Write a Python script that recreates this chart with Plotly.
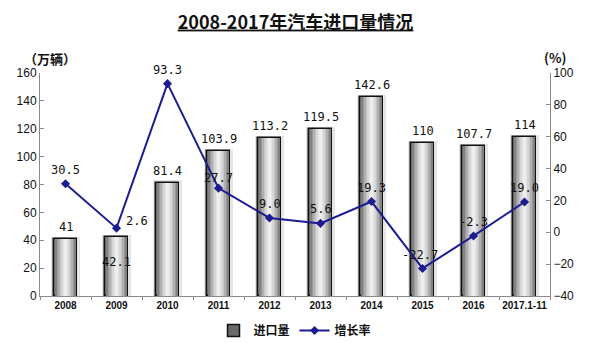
import plotly.graph_objects as go

# Data
categories = ["2008", "2009", "2010", "2011", "2012", "2013", "2014", "2015", "2016", "2017.1-11"]
import_volume = [41, 42.1, 81.4, 103.9, 113.2, 119.5, 142.6, 110, 107.7, 114]   # 万辆
growth_rate = [30.5, 2.6, 93.3, 27.7, 9.0, 5.6, 19.3, -22.7, -2.3, 19.0]       # %
volume_labels = ["41", "42.1", "81.4", "103.9", "113.2", "119.5", "142.6", "110", "107.7", "114"]
rate_labels = ["30.5", "2.6", "93.3", "27.7", "9.0", "5.6", "19.3", "-22.7", "-2.3", "19.0"]

LINE_COLOR = "#1c1c92"
FONT = "Liberation Sans, Arial, sans-serif"
CJK = "Noto Sans CJK SC, sans-serif"
MONO = "DejaVu Sans Mono, monospace"

fig = go.Figure()

# soft shadow behind the bars
fig.add_trace(go.Bar(
    x=categories, y=[v + 1.5 for v in import_volume], width=0.56,
    marker=dict(color="rgba(0,0,0,0.10)", line=dict(width=0)),
    showlegend=False, hoverinfo="skip", yaxis="y"))

# cylinder-like gray shading built from nested bars
widths = [0.47, 0.41, 0.35, 0.29, 0.23, 0.17, 0.11, 0.05]
shades = ["#6a6a6a", "#828282", "#9a9a9a", "#b0b0b0", "#c4c4c4", "#d6d6d6", "#e4e4e4", "#eeeeee"]
for i, (w, c) in enumerate(zip(widths, shades)):
    fig.add_trace(go.Bar(
        x=categories, y=import_volume, width=w, name="进口量",
        marker=dict(color=c, line=dict(color="#111111", width=1.5) if i == 0 else dict(width=0)),
        showlegend=(i == 0), hoverinfo="skip" if i else None, yaxis="y"))

# growth rate line
fig.add_trace(go.Scatter(
    x=categories, y=growth_rate, name="增长率", mode="lines+markers", yaxis="y2",
    line=dict(color=LINE_COLOR, width=2),
    marker=dict(symbol="diamond", size=7, color=LINE_COLOR)))

label_font = dict(family=MONO, size=12, color="#111")

# value labels for bars (x given as category index)
bar_shift = {1: (0, -25)}
for i, (v, t) in enumerate(zip(import_volume, volume_labels)):
    dx, dy = bar_shift.get(i, (0, 12))
    fig.add_annotation(x=i, y=v, yref="y", text=t, showarrow=False,
                       xshift=dx, yshift=dy, font=label_font)

# value labels for the growth line
rate_shift = {1: (20, 7), 3: (0, 10), 7: (-3, 13)}
for i, (v, t) in enumerate(zip(growth_rate, rate_labels)):
    dx, dy = rate_shift.get(i, (0, 14))
    fig.add_annotation(x=i, y=v, yref="y2", text=t, showarrow=False,
                       xshift=dx, yshift=dy, font=label_font)

# axis unit labels
unit_font = dict(family=CJK, size=13, color="#111", weight="bold")
fig.add_annotation(xref="paper", yref="paper", x=-0.035, y=1.0, yshift=15,
                   xanchor="left", yanchor="middle",
                   text="（万辆）", showarrow=False, font=unit_font)
fig.add_annotation(xref="paper", yref="paper", x=0.984, y=1.0, yshift=16,
                   xanchor="left", yanchor="middle",
                   text="(%)", showarrow=False, font=unit_font)

axis_common = dict(showgrid=False, zeroline=False, showline=True, linecolor="#8a8a8a",
                   linewidth=1, ticks="inside", ticklen=4, tickcolor="#8a8a8a",
                   tickfont=dict(family=FONT, size=12, color="#111"))

fig.update_layout(
    width=591, height=343,
    margin=dict(l=40, r=41, t=73, b=47, autoexpand=False),
    paper_bgcolor="white", plot_bgcolor="white",
    barmode="overlay", bargap=0,
    title=dict(text="<b><u>2008-2017年汽车进口量情况</u></b>", x=0.5, xanchor="center",
               y=0.935, yanchor="middle", font=dict(family=CJK, size=18, color="#111")),
    xaxis=dict(type="category", range=[-0.5, 9.5], showgrid=False, showline=True,
               linecolor="#8a8a8a", ticks="outside", tickson="boundaries", ticklen=3,
               tickcolor="#8a8a8a", tickangle=0,
               tickfont=dict(family=FONT, size=10, color="#111", weight="bold")),
    yaxis=dict(range=[0, 160], dtick=20, **axis_common),
    yaxis2=dict(range=[-40, 100], dtick=20, overlaying="y", side="right", **axis_common),
    legend=dict(orientation="h", x=0.5, xanchor="center", y=-0.155, yanchor="middle",
                font=dict(family=CJK, size=12, color="#111", weight="bold"), itemwidth=30),
)

fig.write_html("out.html")
